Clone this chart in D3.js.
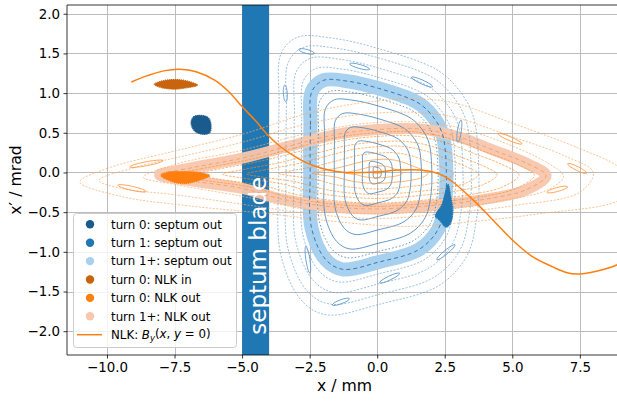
<!DOCTYPE html>
<html>
<head>
<meta charset="utf-8">
<script src="https://cdn.jsdelivr.net/npm/d3@7"></script>
<style>
  body { margin: 0; background: #fff; }
  svg { font-family: "DejaVu Sans", sans-serif; }
</style>
</head>
<body>
<div id="chart-area"></div>
<script>

// SVG Size
var width = 617,
    height = 403;

// Axis ticks
var xTicks = [-10, -7.5, -5, -2.5, 0, 2.5, 5, 7.5];
var yTicks = [-2, -1.5, -1, -0.5, 0, 0.5, 1, 1.5, 2];

// Septum blade (x range in mm)
var septumBlade = [-5.0, -4.0];

// NLK field profile By(x, y=0), scaled onto the x' axis
var nlkX  = [-9.1, -8.5, -7.9, -7.3, -6.7, -6.0, -5.5, -5.0, -4.5, -4.1, -3.6, -2.9, -2.4, -1.8, -1.2, -0.5, 0.1, 0.8, 1.6, 2.3, 2.8, 3.5, 4.2, 5.0, 5.7, 6.5, 7.0, 7.4, 7.9, 8.4, 8.9, 9.1];
var nlkBy = [1.14, 1.22, 1.28, 1.30, 1.27, 1.16, 1.02, 0.83, 0.65, 0.49, 0.33, 0.17, 0.09, 0.03, 0.0, 0.0, 0.01, 0.03, 0.03, -0.02, -0.12, -0.33, -0.57, -0.85, -1.05, -1.19, -1.26, -1.28, -1.26, -1.22, -1.16, -1.12];

// turn 1+ septum out: centre line of the ring
var septumRing = [[-2.48, 0], [-2.47, 0.6], [-2.42, 1.02], [-2.0, 1.16], [-1.1, 1.15], [0.05, 1.06], [1.45, 0.89], [1.95, 0.75], [2.4, 0.5], [2.56, 0], [2.5, -0.4], [2.25, -0.72], [1.55, -0.97], [0.05, -1.13], [-1.28, -1.22], [-1.9, -1.1], [-2.43, -0.7]];
var septumInnerScales = [0.06, 0.12, 0.22, 0.34, 0.49, 0.64, 0.79, 0.88];
var septumOuterScales = [1.13, 1.24, 1.36, 1.47];
// small islands outside the septum ring (end points)
var septumIslands = [
    [-2.9, 1.55, -2.33, 1.50], [-1.02, 1.37, -0.28, 1.30], [1.27, 1.20, 2.05, 1.08],
    [-3.42, 1.10, -3.38, 0.89], [-2.64, -0.93, -2.49, -1.27], [-1.66, -1.67, -1.03, -1.59],
    [0.09, -1.39, 0.83, -1.27], [2.21, -1.10, 2.88, -0.91], [2.98, 0.38, 3.1, 0.66]
];

// turn 1+ NLK out: centre line of the ring
var nlkRing = [[-8.05, -0.03], [-7.0, 0.05], [-5.0, 0.18], [-3.5, 0.31], [-1.5, 0.48], [0, 0.54], [1.5, 0.55], [3.0, 0.45], [4.3, 0.28], [5.5, 0.12], [6.25, -0.04], [5.5, -0.22], [4.3, -0.32], [2.5, -0.40], [0, -0.46], [-2.0, -0.42], [-3.6, -0.33], [-5.0, -0.2], [-7.0, -0.1]];
var nlkInnerScales = [0.03, 0.15, 0.3, 0.45, 0.6, 0.71, 0.84, 0.93];
// orbits outside the NLK ring
var nlkOuter1 = [[-8.65, -0.06], [-7.5, 0.1], [-5, 0.28], [-2.5, 0.5], [0, 0.63], [2.5, 0.6], [4.5, 0.4], [6.3, 0.12], [6.9, -0.05], [6.3, -0.22], [4.5, -0.36], [2.5, -0.47], [0, -0.52], [-2.5, -0.47], [-5, -0.3], [-7.5, -0.15]];
var nlkOuter2 = [[-10.3, -0.1], [-9, 0.06], [-7, 0.22], [-5, 0.38], [-2.5, 0.62], [0, 0.75], [2.5, 0.72], [5, 0.45], [7, 0.2], [8.0, 0.0], [7.5, -0.25], [5, -0.42], [2.5, -0.52], [0, -0.58], [-2.5, -0.52], [-5, -0.4], [-7.5, -0.28], [-9.5, -0.2]];
var nlkOuter3 = [[-11.0, -0.12], [-10, 0.05], [-7.5, 0.27], [-5, 0.48], [-2.5, 0.75], [0, 0.9], [2.5, 0.9], [5, 0.62], [7.5, 0.3], [8.9, 0.08], [9.6, -0.15], [8.9, -0.36], [6, -0.52], [3.5, -0.62], [1, -0.68], [-1.5, -0.62], [-4, -0.52], [-7, -0.42], [-9.5, -0.3]];
var nlkIslands = [
    [4.47, 0.49, 5.36, 0.36], [7.05, 0.11, 7.75, -0.01], [6.28, -0.25, 7.05, -0.18],
    [-9.16, 0.07, -7.92, 0.15], [-9.6, -0.16, -8.55, -0.24]
];

// turn 0 / turn 1 bunches (outline of each cloud)
var turn0SeptumOut = [[-6.89, 0.62], [-6.8, 0.70], [-6.55, 0.72], [-6.25, 0.69], [-6.15, 0.6], [-6.2, 0.5], [-6.45, 0.48], [-6.75, 0.52]];
var turn1SeptumOut = [[2.62, -0.15], [2.72, -0.3], [2.8, -0.5], [2.7, -0.65], [2.55, -0.69], [2.3, -0.6], [2.15, -0.55], [2.4, -0.4]];
var turn0NlkIn     = [[-8.25, 1.11], [-8.0, 1.15], [-7.5, 1.17], [-7.0, 1.15], [-6.65, 1.10], [-7.0, 1.07], [-7.5, 1.05], [-8.0, 1.07]];
var turn0NlkOut    = [[-8.0, -0.04], [-7.8, 0.0], [-7.2, 0.01], [-6.6, 0.0], [-6.2, -0.04], [-6.6, -0.1], [-7.2, -0.14], [-7.7, -0.1]];

// Legend
var legendLabels = ["turn 0: septum out", "turn 1: septum out", "turn 1+: septum out", "turn 0: NLK in", "turn 0: NLK out", "turn 1+: NLK out"];
var legendColors = ["#1a5a8c", "#1f77b4", "#a8d0ef", "#c8640e", "#ff7f0e", "#f8c6ad"];

var svg = d3.select("#chart-area")
    .append("svg")
    .attr("width", width)
    .attr("height", height);

// Scales
var x = d3.scaleLinear().domain([-11.48, 9.06]).range([67, 622]);
var y = d3.scaleLinear().domain([-2.30, 2.11]).range([355, 5]);

svg.append("clipPath").attr("id", "plot-clip")
    .append("rect")
    .attr("x", 67).attr("y", 5)
    .attr("width", 555).attr("height", 350);

// Grid
var grid = svg.append("g");
grid.selectAll(".gx").data(xTicks).enter().append("line")
    .attr("x1", d => Math.round(x(d)) + 0.5).attr("x2", d => Math.round(x(d)) + 0.5)
    .attr("y1", 5).attr("y2", 355)
    .attr("stroke", "#bcbcbc").attr("stroke-width", 1);
grid.selectAll(".gy").data(yTicks).enter().append("line")
    .attr("y1", d => Math.round(y(d)) + 0.5).attr("y2", d => Math.round(y(d)) + 0.5)
    .attr("x1", 67).attr("x2", 622)
    .attr("stroke", "#bcbcbc").attr("stroke-width", 1);

var plot = svg.append("g").attr("clip-path", "url(#plot-clip)");

// Septum blade
plot.append("rect")
    .attr("x", x(septumBlade[0]))
    .attr("width", x(septumBlade[1]) - x(septumBlade[0]))
    .attr("y", 0).attr("height", 360)
    .attr("fill", "#1f77b4");

var ring = d3.line()
    .x(d => x(d[0]))
    .y(d => y(d[1]))
    .curve(d3.curveCatmullRomClosed.alpha(0.5));

function scaled(pts, s) {
    return pts.map(p => [p[0] * s, p[1] * s]);
}

// turn 1+ bands
plot.append("path").attr("d", ring(septumRing))
    .attr("fill", "none").attr("stroke", "#a8d0ef").attr("stroke-width", 14);
plot.append("path").attr("d", ring(nlkRing))
    .attr("fill", "none").attr("stroke", "#f8c6ad").attr("stroke-width", 11).attr("opacity", 0.95);

// Septum-side orbits
plot.selectAll(".sin").data(septumInnerScales).enter().append("path")
    .attr("d", s => ring(scaled(septumRing, s)))
    .attr("fill", "none").attr("stroke", "#3b80bb").attr("stroke-width", 0.8)
    .attr("stroke-dasharray", s => s > 0.85 ? "1.5,2" : null);
plot.selectAll(".sout").data(septumOuterScales).enter().append("path")
    .attr("d", s => ring(scaled(septumRing, s)))
    .attr("fill", "none").attr("stroke", "#6fa6d2").attr("stroke-width", 0.7)
    .attr("stroke-dasharray", "2,1.5");

// NLK-side orbits
plot.selectAll(".nin").data(nlkInnerScales).enter().append("path")
    .attr("d", s => ring(scaled(nlkRing, s)))
    .attr("fill", "none").attr("stroke", "#ff8a22").attr("stroke-width", 0.8).attr("opacity", 0.8)
    .attr("stroke-dasharray", s => s > 0.4 ? "2.5,1.2" : null);
plot.selectAll(".nout").data([nlkOuter1, nlkOuter2, nlkOuter3]).enter().append("path")
    .attr("d", d => ring(d))
    .attr("fill", "none").attr("stroke", "#ffa760").attr("stroke-width", 0.7)
    .attr("stroke-dasharray", "2,1.5");

// Islands drawn as thin ellipses between their end points
function island(g, data, color) {
    g.selectAll(null).data(data).enter().append("ellipse")
        .attr("cx", d => (x(d[0]) + x(d[2])) / 2)
        .attr("cy", d => (y(d[1]) + y(d[3])) / 2)
        .attr("rx", d => Math.hypot(x(d[2]) - x(d[0]), y(d[3]) - y(d[1])) / 2)
        .attr("ry", 2)
        .attr("transform", d => {
            var a = Math.atan2(y(d[3]) - y(d[1]), x(d[2]) - x(d[0])) * 180 / Math.PI;
            return "rotate(" + a + "," + (x(d[0]) + x(d[2])) / 2 + "," + (y(d[1]) + y(d[3])) / 2 + ")";
        })
        .attr("fill", "none").attr("stroke", color).attr("stroke-width", 0.8);
}
island(plot, septumIslands, "#5b97c8");
island(plot, nlkIslands, "#ff9a45");

// dashed centre lines of the bands
plot.append("path").attr("d", ring(septumRing))
    .attr("fill", "none").attr("stroke", "#3579b3").attr("stroke-width", 1)
    .attr("stroke-dasharray", "4,3");
plot.append("path").attr("d", ring(nlkRing))
    .attr("fill", "none").attr("stroke", "#f7a26c").attr("stroke-width", 1)
    .attr("stroke-dasharray", "4,3");

// Bunches
var clouds = [
    [turn0SeptumOut, legendColors[0]],
    [turn1SeptumOut, legendColors[1]],
    [turn0NlkIn, legendColors[3]],
    [turn0NlkOut, legendColors[4]]
];
plot.selectAll(".cloud").data(clouds).enter().append("path")
    .attr("d", d => ring(d[0]))
    .attr("fill", d => d[1])
    .attr("stroke", d => d[1])
    .attr("stroke-width", 1.2)
    .attr("stroke-dasharray", "1.2,0.8");

// NLK field line
plot.append("path")
    .datum(d3.zip(nlkX, nlkBy))
    .attr("d", d3.line().x(d => x(d[0])).y(d => y(d[1])).curve(d3.curveCatmullRom.alpha(0.5)))
    .attr("fill", "none").attr("stroke", "#ff7f0e").attr("stroke-width", 1.5);

// Septum label
plot.append("text")
    .attr("transform", "translate(" + (x(-4.5) + 10) + "," + y(-1.05) + ")rotate(-90)")
    .attr("text-anchor", "middle")
    .attr("fill", "#fff")
    .style("font-size", "23px")
    .text("septum blade");

// Axes
var fmt = d3.format(".1f");
var xAxis = d3.axisBottom(x).tickValues(xTicks).tickFormat(fmt).tickSizeOuter(0).tickSize(3.5).tickPadding(3.5);
var yAxis = d3.axisLeft(y).tickValues(yTicks).tickFormat(fmt).tickSizeOuter(0).tickSize(3.5).tickPadding(3.5);

var gx = svg.append("g")
    .attr("transform", "translate(0,355)")
    .call(xAxis);
var gy = svg.append("g")
    .attr("transform", "translate(67,0)")
    .call(yAxis);
[gx, gy].forEach(function(g) {
    g.select(".domain").remove();
    g.selectAll("line").attr("stroke", "#000").attr("stroke-width", 0.8);
    g.selectAll("text").style("font-size", "13.4px").attr("fill", "#000")
        .style("font-family", "DejaVu Sans");
});

// Spines
svg.append("line").attr("x1", 67).attr("x2", 67).attr("y1", 5).attr("y2", 355)
    .attr("stroke", "#000").attr("stroke-width", 0.8);
svg.append("line").attr("x1", 67).attr("x2", 622).attr("y1", 355).attr("y2", 355)
    .attr("stroke", "#000").attr("stroke-width", 0.8);
svg.append("line").attr("x1", 67).attr("x2", 622).attr("y1", 5).attr("y2", 5)
    .attr("stroke", "#000").attr("stroke-width", 0.8);

svg.append("text")
    .attr("text-anchor", "middle")
    .attr("transform", "translate(344.5,391)")
    .style("font-size", "15.7px")
    .text("x / mm");

svg.append("text")
    .attr("text-anchor", "middle")
    .attr("transform", "translate(21,180)rotate(-90)")
    .style("font-size", "15.7px")
    .text("x\u2032 / mrad");

// Legend
var legend = svg.append("g");
legend.append("rect")
    .attr("x", 73.5).attr("y", 213.5)
    .attr("width", 163).attr("height", 134)
    .attr("rx", 3)
    .attr("fill", "#fff").attr("fill-opacity", 0.8)
    .attr("stroke", "#cccccc").attr("stroke-width", 1);

var rowY = d3.scaleLinear().domain([0, 6]).range([224.3, 334.7]);

legend.selectAll(".lm").data(legendLabels).enter().append("circle")
    .attr("cx", 90).attr("cy", (d, i) => rowY(i))
    .attr("r", 4.2)
    .attr("fill", (d, i) => legendColors[i]);
legend.selectAll(".lt").data(legendLabels).enter().append("text")
    .attr("x", 111).attr("y", (d, i) => rowY(i)).attr("dy", "0.36em")
    .style("font-size", "11.8px")
    .text(d => d);

legend.append("line")
    .attr("x1", 77).attr("x2", 102)
    .attr("y1", rowY(6)).attr("y2", rowY(6))
    .attr("stroke", "#ff7f0e").attr("stroke-width", 1.5);
var lt = legend.append("text")
    .attr("x", 111).attr("y", rowY(6)).attr("dy", "0.36em")
    .style("font-size", "11.8px");
lt.append("tspan").text("NLK: ");
lt.append("tspan").style("font-style", "italic").text("B");
lt.append("tspan").style("font-style", "italic").style("font-size", "8.5px").attr("dy", "0.25em").text("y");
lt.append("tspan").attr("dy", "-0.25em").text("(");
lt.append("tspan").style("font-style", "italic").text("x");
lt.append("tspan").text(", ");
lt.append("tspan").style("font-style", "italic").text("y");
lt.append("tspan").text(" = 0)");

</script>
</body>
</html>
